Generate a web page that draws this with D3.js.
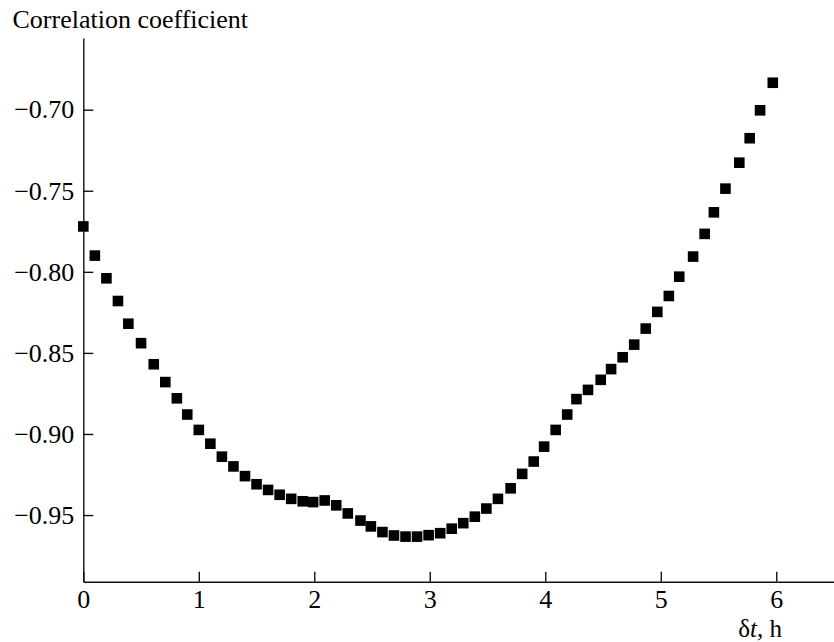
<!DOCTYPE html>
<html>
<head>
<meta charset="utf-8">
<script src="https://cdn.jsdelivr.net/npm/d3@7"></script>
<style>
  html, body { margin: 0; padding: 0; background: #fff; }
  svg { display: block; }
  text { font-family: "Liberation Serif", "Times New Roman", serif; fill: #000; }
</style>
</head>
<body>
<svg id="chart" width="834" height="642"></svg>
<script>
// Time lag (h) of each point
const lagHours = [0, 0.1, 0.2, 0.3, 0.39, 0.5, 0.61, 0.71, 0.81, 0.9,
  1.0, 1.1, 1.2, 1.3, 1.4, 1.5, 1.6, 1.7, 1.8, 1.9,
  1.99, 2.09, 2.19, 2.29, 2.4, 2.49, 2.59, 2.69, 2.79, 2.89,
  2.99, 3.09, 3.19, 3.29, 3.39, 3.49, 3.59, 3.7, 3.8, 3.9,
  3.99, 4.09, 4.19, 4.27, 4.37, 4.48, 4.57, 4.67, 4.77, 4.87,
  4.97, 5.07, 5.16, 5.28, 5.38, 5.46, 5.56, 5.68, 5.77, 5.86, 5.97];
// Correlation coefficient values
const corrValues = [-0.772, -0.790, -0.804, -0.818, -0.832, -0.844, -0.857, -0.868, -0.878, -0.888,
  -0.8975, -0.906, -0.914, -0.920, -0.926, -0.931, -0.9345, -0.9375, -0.940, -0.9415,
  -0.942, -0.941, -0.944, -0.949, -0.9534, -0.957, -0.9605, -0.9626, -0.9633, -0.9633,
  -0.9624, -0.9612, -0.9584, -0.955, -0.951, -0.946, -0.940, -0.9335, -0.9246, -0.917,
  -0.9078, -0.8975, -0.888, -0.8785, -0.8728, -0.8666, -0.860, -0.8527, -0.8449, -0.835,
  -0.8247, -0.8149, -0.803, -0.7906, -0.7766, -0.7633, -0.7487, -0.7327, -0.7176, -0.7004, -0.6834];
const xTickValues = [0, 1, 2, 3, 4, 5, 6];
const yTickValues = [-0.70, -0.75, -0.80, -0.85, -0.90, -0.95];
const yTitle = "Correlation coefficient";

const svg = d3.select("#chart");
const FONT = 26;

const x = d3.scaleLinear().domain([0, 6.5]).range([83.3, 834]);
const y = d3.scaleLinear().domain([-0.6558, -0.9911]).range([38, 581.7]);

// Y axis
const yAxis = d3.axisLeft(y)
  .tickValues(yTickValues)
  .tickFormat(d3.format(".2f"))
  .tickSize(-10)
  .tickSizeOuter(0)
  .tickPadding(9);
const gy = svg.append("g").attr("transform", `translate(${x(0)},0)`).call(yAxis);
gy.attr("font-family", null).attr("font-size", null);
gy.selectAll("text").attr("font-size", FONT);

// X axis
const xAxis = d3.axisBottom(x)
  .tickValues(xTickValues)
  .tickFormat(d3.format("d"))
  .tickSize(-10)
  .tickSizeOuter(0);
const gx = svg.append("g").attr("transform", `translate(0,${y.range()[1]})`).call(xAxis);
gx.attr("font-family", null).attr("font-size", null);
gx.selectAll("text").attr("font-size", FONT).attr("y", 26.5).attr("dy", null);

svg.selectAll(".domain, .tick line").attr("stroke", "#111").attr("stroke-width", 1.4);

// Titles
svg.append("text")
  .attr("x", 12.5).attr("y", 28.3)
  .attr("font-size", FONT)
  .text(yTitle);

const xl = svg.append("text")
  .attr("x", 782).attr("y", 637)
  .attr("text-anchor", "end")
  .attr("font-size", 25);
xl.append("tspan").text("δ");
xl.append("tspan").attr("font-style", "italic").text("t");
xl.append("tspan").text(", h");

// Points
const S = 10.6;
svg.append("g").selectAll("rect")
  .data(lagHours.map((h, i) => ({h, c: corrValues[i]})))
  .join("rect")
  .attr("x", d => x(d.h) - S / 2)
  .attr("y", d => y(d.c) - S / 2)
  .attr("width", S)
  .attr("height", S)
  .attr("fill", "#000");
</script>
</body>
</html>
